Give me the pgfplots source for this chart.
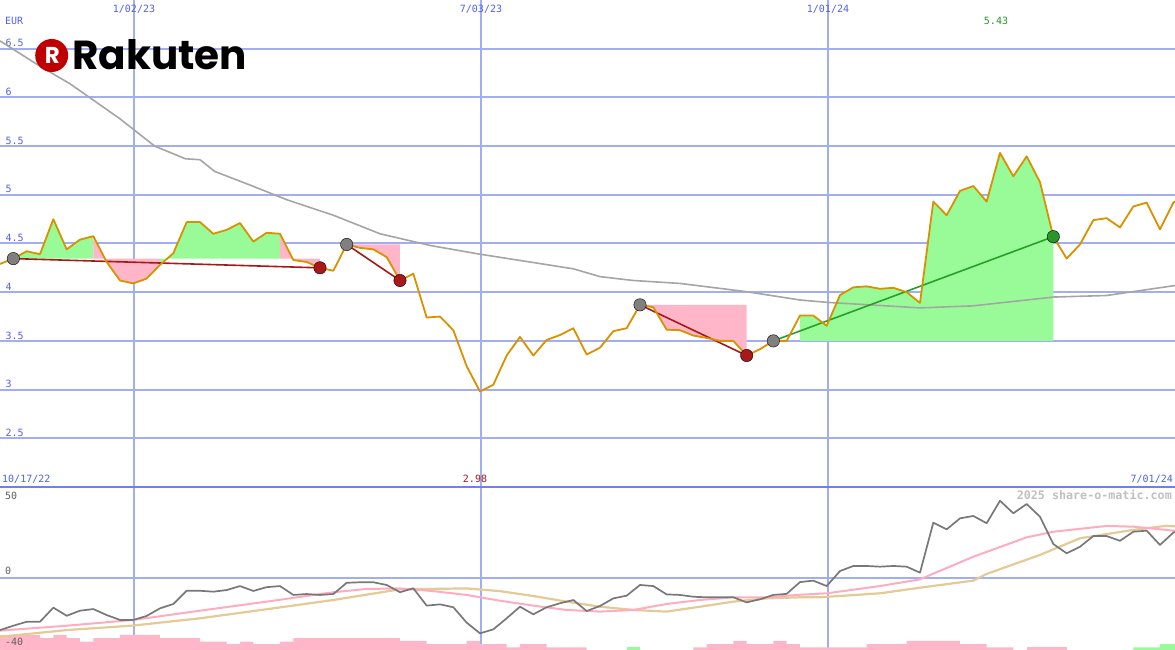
\documentclass[border=0pt]{standalone}
\usepackage{fontspec}
\setmonofont{DejaVu Sans Mono}
\newfontfamily\logofont{Poppins}
\usepackage{pgfplots}
\pgfplotsset{compat=1.18}
\usepackage{pgfplotstable}

\definecolor{gridblue}{RGB}{162,174,242}
\definecolor{sepblue}{RGB}{112,128,235}
\definecolor{lblblue}{RGB}{80,96,235}
\definecolor{pinkfill}{RGB}{255,182,200}
\definecolor{greenfill}{RGB}{152,251,152}
\definecolor{pricecol}{RGB}{218,145,0}
\definecolor{magray}{RGB}{165,165,165}
\definecolor{oscgray}{RGB}{120,120,120}
\definecolor{oscpink}{RGB}{255,172,192}
\definecolor{osctan}{RGB}{228,202,150}
\definecolor{trendred}{RGB}{165,25,25}
\definecolor{trendgreen}{RGB}{40,160,40}
\definecolor{dotgray}{RGB}{128,128,128}
\definecolor{dotred}{RGB}{170,25,25}
\definecolor{dotgreen}{RGB}{40,150,40}
\definecolor{logored}{RGB}{191,0,0}

\pgfplotstableread{
i p
0 4.29
1 4.345
2 4.42
3 4.39
4 4.75
5 4.44
6 4.54
7 4.575
8 4.31
9 4.12
10 4.09
11 4.14
12 4.28
13 4.40
14 4.72
15 4.72
16 4.60
17 4.64
18 4.71
19 4.52
20 4.61
21 4.60
22 4.33
23 4.31
24 4.25
25 4.22
26 4.49
27 4.455
28 4.44
29 4.36
30 4.12
31 4.19
32 3.74
33 3.75
34 3.61
35 3.24
36 2.98
37 3.05
38 3.35
39 3.54
40 3.35
41 3.51
42 3.56
43 3.63
44 3.36
45 3.43
46 3.60
47 3.63
48 3.87
49 3.845
50 3.615
51 3.61
52 3.555
53 3.53
54 3.50
55 3.50
56 3.35
57 3.415
58 3.50
59 3.50
60 3.76
61 3.76
62 3.655
63 3.97
64 4.05
65 4.06
66 4.035
67 4.045
68 4.00
69 3.89
70 4.93
71 4.79
72 5.04
73 5.09
74 4.93
75 5.43
76 5.19
77 5.395
78 5.13
79 4.57
80 4.345
81 4.49
82 4.74
83 4.76
84 4.665
85 4.88
86 4.92
87 4.645
88 4.92
88.4 4.95
}\price

\pgfplotstableread{
i m
0 6.58
3 6.32
5.25 6.14
9 5.78
11.6 5.50
13.9 5.37
15 5.36
16.1 5.24
18.75 5.10
21.5 4.95
25 4.79
28.5 4.60
32.25 4.48
36 4.39
39.75 4.31
43 4.24
45 4.16
47.5 4.12
51 4.09
56 4.005
60 3.92
62 3.896
69 3.839
73 3.86
79 3.95
83 3.966
88.2 4.07
}\mavg

\pgfplotstableread{
i v
0 -29.0
1 -26.6
2 -24.4
3 -24.4
4 -16.6
5 -21.1
6 -18.3
7 -17.4
8 -20.7
9 -23.4
10 -23.4
11 -21.2
12 -17.0
13 -14.6
14 -7.3
15 -7.3
16 -7.8
17 -6.9
18 -4.7
19 -7.4
20 -5.3
21 -4.7
22 -9.6
23 -9.1
24 -9.6
25 -9.1
26 -2.9
27 -2.6
28 -2.6
29 -4.1
30 -8.1
31 -5.9
32 -15.5
33 -14.8
34 -16.4
35 -24.9
36 -30.8
37 -28.6
38 -22.5
39 -16.1
40 -20.3
41 -16.4
42 -14.2
43 -12.4
44 -18.5
45 -15.7
46 -11.5
47 -10.0
48 -4.1
49 -4.7
50 -9.3
51 -9.6
52 -10.6
53 -10.9
54 -10.9
55 -10.9
56 -13.7
57 -12.0
58 -9.6
59 -9.0
60 -2.5
61 -1.7
62 -4.7
63 3.6
64 6.4
65 6.4
66 6.0
67 6.4
68 6.0
69 2.7
70 30.3
71 26.6
72 32.7
73 34.0
74 30.0
75 42.4
76 35.5
77 40.6
78 33.6
79 18.5
80 13.4
81 17.0
82 22.9
83 22.9
84 20.3
85 25.3
86 25.9
87 18.0
88 24.8
88.4 26.0
}\osc

\pgfplotstableread{
i v
0 -29.3
5 -26.6
10 -23.4
15 -18.3
20 -13.3
25 -8.1
27.5 -6.3
30 -6.0
32.5 -7.5
35 -9.6
37.5 -12.8
40 -15.5
42.5 -17.9
45 -18.8
47.5 -17.9
50 -14.6
52.5 -12.4
55 -10.9
57.5 -10.9
60 -9.5
62 -8.7
66 -4.7
69 -1.0
73 11.5
77 22.2
79 25.3
83 28.5
85 28.1
88 25.9
88.4 25.8
}\oscpinktab

\pgfplotstableread{
i v
0 -32.7
5 -29.0
10 -26.5
15 -22.5
20 -17.5
25 -12.4
30 -6.5
35 -6.0
37.5 -7.5
40 -10.2
42.5 -13.3
45 -16.1
47.5 -17.9
50 -18.8
52.5 -16.1
55 -13.3
57.5 -11.5
60 -10.9
61.5 -10.9
66 -8.7
69 -5.6
73 -1.7
74 2.0
78 12.5
81 21.7
85 26.3
87.5 28.6
88.4 28.1
}\osctantab

\begin{document}
\begin{tikzpicture}
\path[use as bounding box] (0pt,-163pt) rectangle (1175pt,487pt);

\begin{axis}[
  at={(0pt,0pt)}, anchor=south west,
  width=1175pt, height=487pt, scale only axis,
  xmin=0, xmax=88.125, ymin=2, ymax=7,
  axis line style={draw=none},
  xtick={10.05,36.06,62.12}, xticklabels={}, xmajorgrids,
  ytick={2.5,3,3.5,4,4.5,5,5.5,6,6.5}, ymajorgrids,
  major grid style={line width=2pt, color=gridblue},
  tick style={draw=none},
  /pgf/number format/assume math mode=true,
  yticklabel style={anchor=south west, inner sep=1.5pt, xshift=4pt,
    font=\ttfamily\fontsize{10}{12}\selectfont, text=lblblue},
]
% trade areas
\addplot[fill=greenfill, draw=none] coordinates {(1,4.345) (2,4.42) (3,4.39) (4,4.75) (5,4.44) (6,4.54) (7,4.575) (7,4.345)};
\addplot[fill=pinkfill, draw=none] coordinates {(7,4.575) (8,4.31) (9,4.12) (10,4.09) (11,4.14) (12,4.28) (12,4.345) (7,4.345)};
\addplot[fill=greenfill, draw=none] coordinates {(12,4.28) (13,4.40) (14,4.72) (15,4.72) (16,4.60) (17,4.64) (18,4.71) (19,4.52) (20,4.61) (21,4.60) (21,4.345) (12,4.345)};
\addplot[fill=pinkfill, draw=none] coordinates {(21,4.60) (22,4.33) (23,4.31) (24,4.25) (24,4.345) (21,4.345)};
\addplot[fill=pinkfill, draw=none] coordinates {(26,4.49) (27,4.455) (28,4.44) (29,4.36) (30,4.12) (30,4.49)};
\addplot[fill=pinkfill, draw=none] coordinates {(48,3.87) (49,3.845) (50,3.615) (51,3.61) (52,3.555) (53,3.53) (54,3.50) (55,3.50) (56,3.35) (56,3.87)};
\addplot[fill=greenfill, draw=none] coordinates {(60,3.50) (60,3.76) (61,3.76) (62,3.655) (63,3.97) (64,4.05) (65,4.06) (66,4.035) (67,4.045) (68,4.00) (69,3.89) (70,4.93) (71,4.79) (72,5.04) (73,5.09) (74,4.93) (75,5.43) (76,5.19) (77,5.395) (78,5.13) (79,4.57) (79,3.50)};
% moving average
\addplot[magray, line width=1.6pt] table[x=i, y=m] {\mavg};
% trend lines
\addplot[trendred, line width=1.6pt] coordinates {(1,4.345) (24,4.25)};
\addplot[trendred, line width=1.6pt] coordinates {(26,4.49) (30,4.12)};
\addplot[trendred, line width=1.6pt] coordinates {(48,3.87) (56,3.35)};
\addplot[trendgreen, line width=1.6pt] coordinates {(58,3.50) (79,4.57)};
% dots
\addplot[only marks, mark=*, mark size=6.2pt, mark options={draw=none, fill=dotgray}] coordinates {(1,4.345) (26,4.49) (48,3.87) (58,3.50)};
\addplot[only marks, mark=*, mark size=6.2pt, mark options={draw=none, fill=dotred}] coordinates {(24,4.25) (30,4.12) (56,3.35)};
\addplot[only marks, mark=*, mark size=6.2pt, mark options={draw=none, fill=dotgreen}] coordinates {(79,4.57)};
% price
\addplot[pricecol, line width=1.8pt, line join=round] table[x=i, y=p] {\price};
\end{axis}

\begin{axis}[
  at={(0pt,0pt)}, anchor=north west,
  width=1175pt, height=163pt, scale only axis,
  xmin=0, xmax=88.125, ymin=-40, ymax=50,
  axis line style={draw=none},
  xtick={10.05,36.06,62.12}, xticklabels={}, xmajorgrids,
  ytick={0}, yticklabels={}, ymajorgrids,
  major grid style={line width=2pt, color=gridblue},
  tick style={draw=none},
]
\addplot[fill=pinkfill, draw=none] coordinates {(0,-45) (0,-31.7) (3,-31.7) (3,-33.5) (4,-33.5) (4,-31.7) (5,-31.7) (5,-33.5) (6,-33.5) (6,-35.4) (7,-35.4) (7,-33.5) (9,-33.5) (9,-31.7) (12,-31.7) (12,-33.5) (15,-33.5) (15,-35.4) (17,-35.4) (17,-36.7) (18,-36.7) (18,-35.4) (19,-35.4) (19,-36.7) (21,-36.7) (21,-35.4) (22,-35.4) (22,-33.5) (30,-33.5) (30,-35.0) (32,-35.0) (32,-36.7) (35,-36.7) (35,-35.0) (36,-35.0) (36,-36.7) (38,-36.7) (38,-38.5) (39,-38.5) (39,-36.7) (41,-36.7) (41,-38.5) (44,-38.5) (44,-45)};
\addplot[fill=greenfill, draw=none] coordinates {(47,-45) (47,-38.5) (48,-38.5) (48,-45)};
\addplot[fill=pinkfill, draw=none] coordinates {(52,-45) (52,-38.5) (53,-38.5) (53,-36.7) (55,-36.7) (55,-35.0) (56,-35.0) (56,-36.7) (58,-36.7) (58,-35.0) (59,-35.0) (59,-36.7) (60,-36.7) (60,-38.5) (65,-38.5) (65,-36.7) (68,-36.7) (68,-35.0) (72,-35.0) (72,-36.7) (74,-36.7) (74,-38.5) (76,-38.5) (76,-45)};
\addplot[fill=pinkfill, draw=none] coordinates {(77,-45) (77,-38.5) (80,-38.5) (80,-45)};
\addplot[fill=greenfill, draw=none] coordinates {(85,-45) (85,-38.5) (87,-38.5) (87,-36.7) (88.4,-36.7) (88.4,-45)};
\addplot[osctan, line width=2.2pt] table[x=i, y=v] {\osctantab};
\addplot[oscpink, line width=2pt] table[x=i, y=v] {\oscpinktab};
\addplot[oscgray, line width=1.7pt, line join=round] table[x=i, y=v] {\osc};
\end{axis}

% separator
\draw[sepblue, line width=2.2pt] (0pt,0pt) -- (1175pt,0pt);

% labels
\begin{scope}[every node/.style={inner sep=0pt, font=\ttfamily\fontsize{10}{12}\selectfont}]
\node[anchor=base west, text=lblblue] at (5pt,462pt) {EUR};
\node[anchor=base, text=lblblue] at (134pt,474.5pt) {1/02/23};
\node[anchor=base, text=lblblue] at (481pt,474.5pt) {7/03/23};
\node[anchor=base, text=lblblue] at (828pt,474.5pt) {1/01/24};
\node[anchor=base, text=dotgreen] at (996pt,462pt) {5.43};
\node[anchor=base, text=trendred] at (475pt,4pt) {2.98};
\node[anchor=base west, text=lblblue] at (2pt,4pt) {10/17/22};
\node[anchor=base east, text=lblblue] at (1173pt,4pt) {7/01/24};
\node[anchor=base west, text={rgb,255:red,95;green,95;blue,95}] at (5pt,-12.5pt) {50};
\node[anchor=base west, text={rgb,255:red,95;green,95;blue,95}] at (5pt,-87.5pt) {0};
\node[anchor=base west, text={rgb,255:red,95;green,95;blue,95}] at (5pt,-158.5pt) {-40};
\node[anchor=base east, text={rgb,255:red,192;green,192;blue,192}, font=\ttfamily\bfseries\fontsize{11.7}{13}\selectfont] at (1172pt,-13pt) {2025 share-o-matic.com};
\end{scope}

% logo
\fill[logored] (51.7pt,431.5pt) circle (16.5pt);
\node[text=white, inner sep=0pt, font=\logofont\bfseries\fontsize{23}{23}\selectfont] at (52.3pt,431.5pt) {R};
\node[anchor=base west, inner sep=0pt, font=\logofont\bfseries\fontsize{40.5}{40.5}\selectfont] at (72pt,417pt) {Rakuten};
\end{tikzpicture}
\end{document}
